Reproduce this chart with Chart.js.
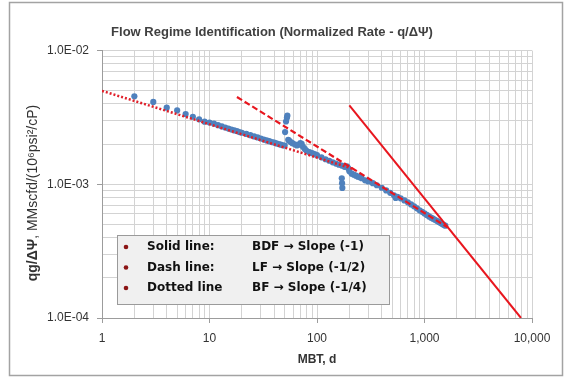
<!DOCTYPE html>
<html>
<head>
<meta charset="utf-8">
<script src="https://cdn.jsdelivr.net/npm/chart.js@4/dist/chart.umd.min.js"></script>
<style>
  html, body { margin: 0; padding: 0; background: #fff; }
  canvas { display: block; }
</style>
</head>
<body>
<canvas id="flow" width="567" height="379"></canvas>
<script>
// Material balance time (days) and normalized rate q/ΔΨ
const mbtDays = [
  2, 3, 4, 5, 6, 7, 8, 9, 10, 11, 12, 13, 14, 15, 16, 17, 18, 19, 20,
  22, 24, 26, 28, 30, 32, 34, 36, 38, 40, 42, 44, 46, 48, 50,
  50.5, 51.5, 52.5, 53, 54, 55, 57, 59, 62, 65, 68, 70, 72, 74, 77, 80,
  85, 90, 95, 100, 110, 120, 130, 140, 150, 160, 170, 170, 171, 172,
  180, 190, 195, 200, 210, 220, 230, 240, 250, 260, 280, 300, 330, 360,
  400, 440, 480, 520, 540, 560, 600, 650, 700, 750, 800, 850, 900, 950,
  1000, 1050, 1100, 1150, 1200, 1250, 1300, 1350, 1400, 1450, 1500, 1560
];
const normRate = [
  4.55e-3, 4.13e-3, 3.74e-3, 3.57e-3, 3.35e-3, 3.20e-3, 3.06e-3, 2.94e-3, 2.90e-3, 2.84e-3,
  2.77e-3, 2.71e-3, 2.66e-3, 2.61e-3, 2.57e-3, 2.53e-3, 2.50e-3, 2.46e-3, 2.43e-3,
  2.38e-3, 2.33e-3, 2.28e-3, 2.24e-3, 2.20e-3, 2.16e-3, 2.13e-3, 2.10e-3, 2.07e-3, 2.05e-3,
  2.02e-3, 2.00e-3, 1.98e-3, 1.96e-3, 1.95e-3,
  2.46e-3, 2.95e-3, 3.15e-3, 3.26e-3, 2.15e-3, 2.12e-3, 2.07e-3, 2.03e-3, 1.99e-3, 1.95e-3,
  1.98e-3, 2.03e-3, 2.01e-3, 1.91e-3, 1.84e-3, 1.78e-3,
  1.74e-3, 1.71e-3, 1.68e-3, 1.65e-3, 1.59e-3, 1.54e-3, 1.50e-3, 1.46e-3, 1.43e-3, 1.40e-3,
  1.38e-3, 1.11e-3, 1.02e-3, 0.94e-3,
  1.35e-3, 1.36e-3, 1.32e-3, 1.25e-3, 1.20e-3, 1.18e-3, 1.16e-3, 1.14e-3, 1.13e-3, 1.11e-3,
  1.07e-3, 1.05e-3, 1.02e-3, 0.984e-3,
  0.942e-3, 0.900e-3, 0.863e-3, 0.827e-3, 0.790e-3, 0.806e-3, 0.785e-3, 0.758e-3, 0.733e-3,
  0.707e-3, 0.684e-3, 0.661e-3, 0.639e-3, 0.622e-3,
  0.606e-3, 0.590e-3, 0.575e-3, 0.563e-3, 0.553e-3, 0.543e-3, 0.533e-3, 0.524e-3, 0.515e-3,
  0.506e-3, 0.498e-3, 0.490e-3
];

// Straight-line flow regime guides (end points only)
const solidLine  = [{ x: 200, y: 3.9e-3 }, { x: 7900, y: 1.0e-4 }];   // BDF, slope -1
const dashLine   = [{ x: 18,  y: 4.5e-3 }, { x: 1650, y: 4.75e-4 }];  // LF, slope -1/2
const dottedLine = [{ x: 1,   y: 5.0e-3 }, { x: 220,  y: 1.3e-3 }];   // BF, slope -1/4

const xDecades    = [1, 10, 100, 1000, 10000];
const xTickLabels = ["1", "10", "100", "1,000", "10,000"];
const yDecades    = [1e-4, 1e-3, 1e-2];
const yTickLabels = ["1.0E-04", "1.0E-03", "1.0E-02"];

const legendNames = ["Solid line:", "Dash line:", "Dotted line"];
const legendDescs = ["BDF → Slope (-1)", "LF → Slope (-1/2)", "BF → Slope (-1/4)"];

const TITLE = "Flow Regime Identification (Normalized Rate - q/ΔΨ)";
const Y_TITLE_BOLD = "qg/ΔΨ";
const Y_TITLE_REST = ", MMscfd/(10⁶psi²/cP)";
const X_TITLE = "MBT, d";

const FONT = "'Liberation Sans', Arial, sans-serif";
const LEGEND_FONT = "'DejaVu Sans', Verdana, sans-serif";
const BLUE = "#4f81bd";
const RED = "#e8161e";
const GRID = "#d3d3d3";
const AXIS = "#9c9c9c";
const TEXT = "#333333";

// log grid: every 1..9 step inside each decade
function logGrid(decades) {
  const vals = [];
  for (let i = 0; i < decades.length - 1; i++) {
    for (let m = 1; m <= 9; m++) vals.push(decades[i] * m);
  }
  vals.push(decades[decades.length - 1]);
  return vals;
}

function decadeIndex(decades, v) {
  return decades.findIndex(d => Math.abs(v / d - 1) < 1e-6);
}

const points = mbtDays.map((t, i) => ({ x: t, y: normRate[i] }));

const framePlugin = {
  id: "frame",
  beforeDraw(chart) {
    const c = chart.ctx;
    c.save();
    c.fillStyle = "#fff";
    c.fillRect(0, 0, chart.width, chart.height);
    c.strokeStyle = "#a3a3a3";
    c.lineWidth = 1.5;
    c.strokeRect(9.5, 2.5, 553, 373);
    c.restore();
  },
  afterDatasetsDraw(chart) {
    const c = chart.ctx;
    c.save();
    // legend box inside the plot
    c.fillStyle = "#f0f0f0";
    c.strokeStyle = "#9a9a9a";
    c.lineWidth = 1;
    c.fillRect(117.5, 235.5, 272, 69);
    c.strokeRect(117.5, 235.5, 272, 69);
    c.font = "bold 12px " + LEGEND_FONT;
    c.textBaseline = "middle";
    const rows = [247, 267.5, 288];
    legendNames.forEach((name, i) => {
      c.fillStyle = "#8b1515";
      c.beginPath();
      c.arc(126, rows[i], 2.3, 0, Math.PI * 2);
      c.fill();
      c.fillStyle = "#111";
      c.fillText(name, 147, rows[i]);
      c.fillText(legendDescs[i], 252, rows[i]);
    });
    c.restore();
  },
  afterDraw(chart) {
    // y title: bold quantity, normal units
    const c = chart.ctx;
    c.save();
    c.translate(33, 193);
    c.rotate(-Math.PI / 2);
    c.textBaseline = "middle";
    c.fillStyle = TEXT;
    const fb = "bold 14px " + FONT, fn = "14px " + FONT;
    c.font = fb; const wb = c.measureText(Y_TITLE_BOLD).width;
    c.font = fn; const wn = c.measureText(Y_TITLE_REST).width;
    let x = -(wb + wn) / 2;
    c.font = fb; c.fillText(Y_TITLE_BOLD, x, 0);
    c.font = fn; c.fillText(Y_TITLE_REST, x + wb, 0);
    c.restore();
  }
};

new Chart(document.getElementById("flow"), {
  type: "scatter",
  data: {
    datasets: [
      { type: "line", data: solidLine, borderColor: RED, borderWidth: 2, pointRadius: 0, fill: false },
      { type: "line", data: dashLine, borderColor: RED, borderWidth: 2.2, borderDash: [6, 3], pointRadius: 0, fill: false },
      { type: "line", data: dottedLine, borderColor: "#e0202a", borderWidth: 2.5, borderDash: [2, 2], pointRadius: 0, fill: false },
      { data: points, backgroundColor: BLUE, borderColor: BLUE, borderWidth: 0, pointRadius: 3.1 }
    ]
  },
  options: {
    responsive: false,
    animation: false,
    events: [],
    layout: { padding: { left: 12, right: 35, top: 0, bottom: 0 } },
    plugins: {
      legend: { display: false },
      tooltip: { enabled: false },
      title: {
        display: true,
        text: TITLE,
        color: "#404040",
        font: { family: FONT, size: 13, weight: "bold" },
        padding: { top: 25, bottom: 10 }
      }
    },
    scales: {
      x: {
        type: "logarithmic",
        position: "bottom",
        min: 1,
        max: 10000,
        afterBuildTicks: s => { s.ticks = logGrid(xDecades).map(v => ({ value: v })); },
        afterFit: s => { s.height = 61; },
        ticks: {
          autoSkip: false,
          maxRotation: 0,
          padding: 8,
          color: TEXT,
          font: { family: FONT, size: 12 },
          callback: v => { const i = decadeIndex(xDecades, v); return i >= 0 ? xTickLabels[i] : ""; }
        },
        grid: {
          color: GRID,
          tickLength: 5,
          tickColor: c => decadeIndex(xDecades, c.tick.value) >= 0 ? AXIS : "rgba(0,0,0,0)"
        },
        border: { color: AXIS },
        title: {
          display: true,
          text: X_TITLE,
          color: TEXT,
          font: { family: FONT, size: 12, weight: "bold" },
          padding: { top: 0, bottom: 12 }
        }
      },
      y: {
        type: "logarithmic",
        min: 1e-4,
        max: 1e-2,
        afterBuildTicks: s => { s.ticks = logGrid(yDecades).map(v => ({ value: v })); },
        afterFit: s => { s.width = 90; },
        ticks: {
          autoSkip: false,
          padding: 8,
          color: TEXT,
          font: { family: FONT, size: 12 },
          callback: v => { const i = decadeIndex(yDecades, v); return i >= 0 ? yTickLabels[i] : ""; }
        },
        grid: {
          color: GRID,
          tickLength: 5,
          tickColor: c => decadeIndex(yDecades, c.tick.value) >= 0 ? AXIS : "rgba(0,0,0,0)"
        },
        border: { color: AXIS }
      }
    }
  },
  plugins: [framePlugin]
});
</script>
</body>
</html>
